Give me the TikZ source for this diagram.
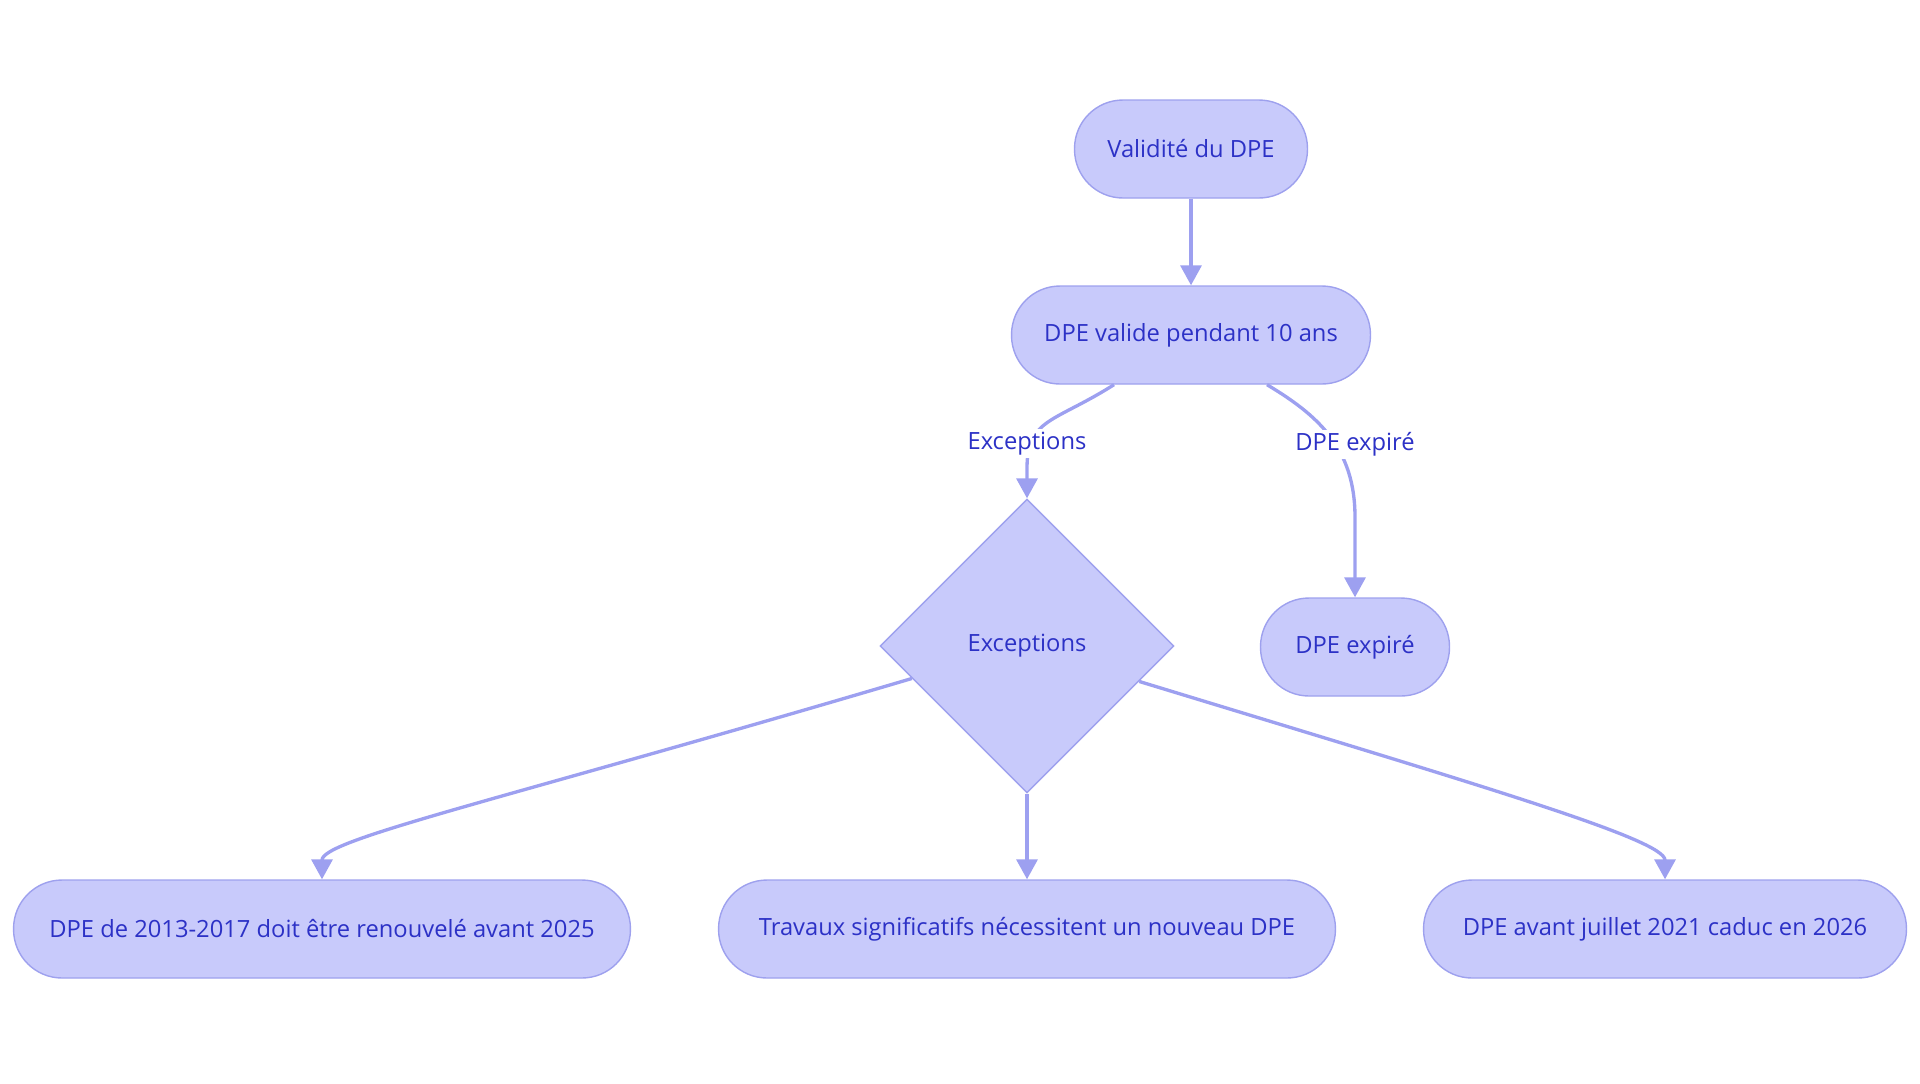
\documentclass[tikz,border=0pt]{standalone}
\usepackage{fontspec}
\setmainfont{Open Sans}
\usepackage{tikz}
\usetikzlibrary{arrows.meta,positioning,calc,shapes.geometric}
\definecolor{boxfill}{HTML}{C8CAFB}
\definecolor{boxline}{HTML}{9EA1EE}
\definecolor{edgeline}{HTML}{9DA0F0}
\definecolor{boxink}{HTML}{2C31C6}

\begin{document}
\begin{tikzpicture}[x=0.02cm,y=-0.02cm,
  pill/.style={draw=boxline,fill=boxfill,line width=0.8pt,
    rounded corners=0.97cm,minimum height=1.96cm,inner sep=0pt,
    text=boxink,font=\fontsize{13.5}{16}\selectfont},
  choice/.style={diamond,aspect=1,draw=boxline,fill=boxfill,line width=0.8pt,
    minimum size=5.88cm,inner sep=0pt,text=boxink,
    font=\fontsize{13.5}{16}\selectfont},
  flow/.style={-{Triangle[length=4mm,width=4.2mm]},line width=1.9pt,
    draw=edgeline},
  lbl/.style={fill=white,text=boxink,inner sep=1.5pt,
    font=\fontsize{13.5}{16}\selectfont}
]
  \useasboundingbox (0,0) rectangle (1920,1083);

  \node[pill,minimum width=4.66cm] (valid) at (1191,149) {Validité du DPE};
  \node[pill,minimum width=7.18cm] (dix) at (1191,335)
    {DPE valide pendant 10 ans};
  \node[choice] (exc) at (1027,646) {Exceptions};
  \node[pill,minimum width=3.78cm] (exp) at (1355,647) {DPE expiré};

  \node[pill,minimum width=12.34cm] (renov) at (322,929)
    {DPE de 2013-2017 doit être renouvelé avant 2025};
  \node[pill,minimum width=12.34cm] (trav) at (1027,929)
    {Travaux significatifs nécessitent un nouveau DPE};
  \node[pill,minimum width=9.66cm] (caduc) at (1665,929)
    {DPE avant juillet 2021 caduc en 2026};

  \draw[flow] (valid) -- (dix);
  \draw[flow] ($(dix.south)+(-77,0)$) .. controls +(-60,38) and +(0,-50)
    .. ($(exc.north)+(0,-30)$) -- (exc.north)
    node[lbl] at ($(exc.north)+(0,-55)$) {Exceptions};
  \draw[flow] ($(dix.south)+(76,0)$) .. controls +(50,30) and +(0,-70)
    .. ($(exp.north)+(0,-80)$) -- (exp.north)
    node[lbl] at ($(exp.north)+(0,-153)$) {DPE expiré};

  \draw[flow] ($(exc.west)!0.22!(exc.south)$) .. controls +(-412,122)
    and +(0,-40) .. (renov.north);
  \draw[flow] (exc) -- (trav);
  \draw[flow] ($(exc.east)!0.24!(exc.south)$) .. controls +(341,104)
    and +(0,-40) .. (caduc.north);
\end{tikzpicture}
\end{document}
